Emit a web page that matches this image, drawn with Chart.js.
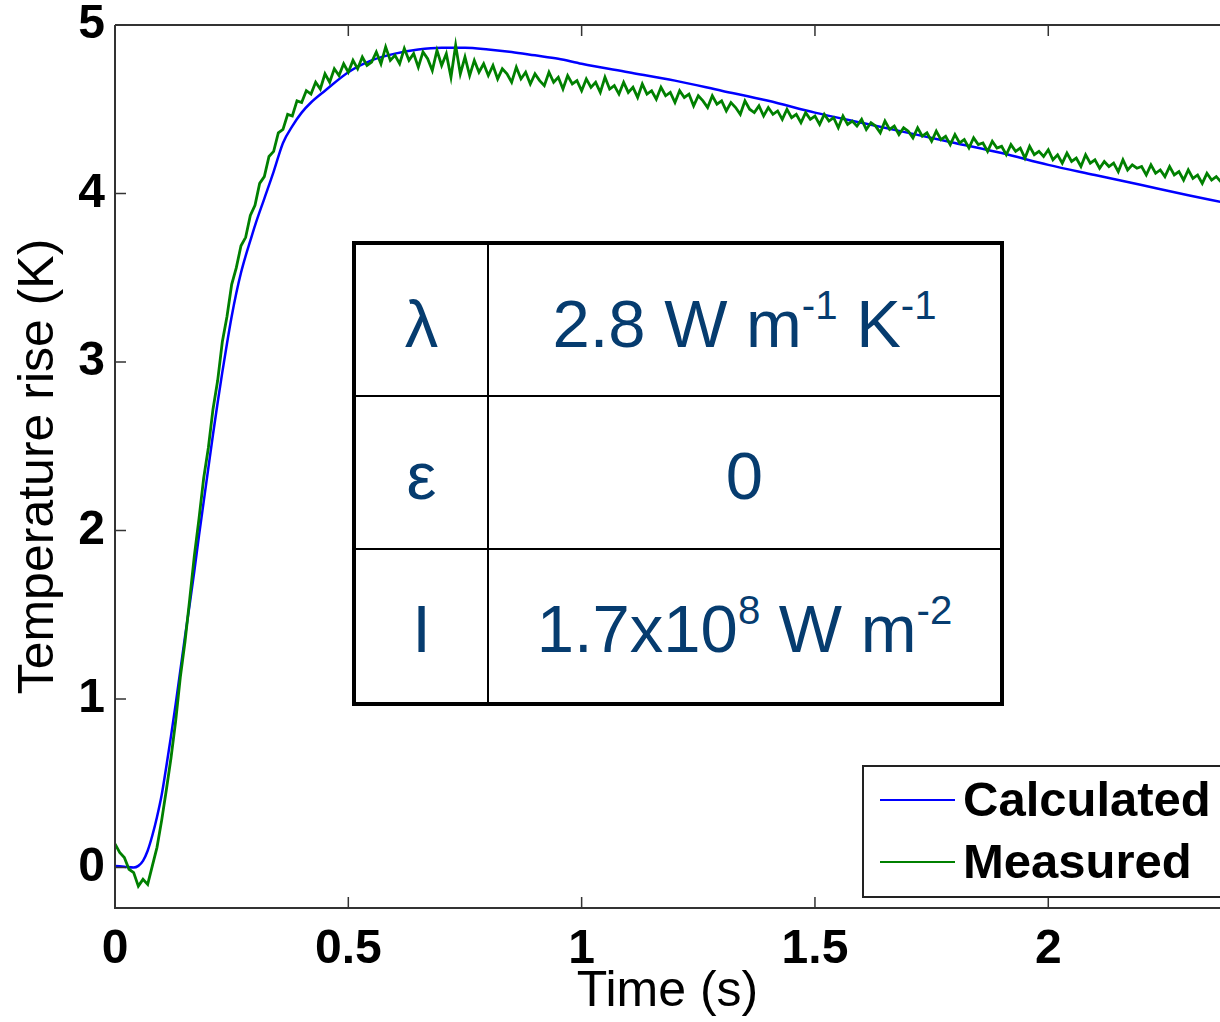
<!DOCTYPE html>
<html>
<head>
<meta charset="utf-8">
<script src="https://cdn.jsdelivr.net/npm/chart.js@4/dist/chart.umd.min.js"></script>
<style>
  html, body { margin: 0; padding: 0; background: #fff; }
  #wrap { position: relative; width: 1220px; height: 1022px; overflow: hidden; }
  #plot { position: absolute; left: 0; top: 0; }
  #params {
    position: absolute; left: 352px; top: 241px; width: 652px; height: 465px;
    box-sizing: border-box; border: 4px solid #000; background: #fff;
    display: grid; grid-template-columns: 133px 1fr; grid-template-rows: 1fr 1fr 1fr;
    font-family: 'Liberation Sans', Arial, sans-serif; font-size: 67px; color: #063c6f;
  }
  #params div {
    display: flex; align-items: center; justify-content: center;
    padding-top: 6px; box-sizing: border-box; white-space: nowrap;
  }
  #params .k { border-right: 2px solid #000; }
  #params .r { border-bottom: 2px solid #000; }
  #params sup { font-size: 0.6em; vertical-align: 0.7em; line-height: 0; }
</style>
</head>
<body>
<div id="wrap">
  <canvas id="plot" width="1220" height="1022"></canvas>
  <div id="params">
    <div class="k r"><span>λ</span></div><div class="r"><span>2.8 W m<sup>-1</sup> K<sup>-1</sup></span></div>
    <div class="k r"><span>ε</span></div><div class="r"><span>0</span></div>
    <div class="k"><span>I</span></div><div><span>1.7x10<sup>8</sup> W m<sup>-2</sup></span></div>
  </div>
</div>
<script>
let canvas = document.getElementById('plot');
let context = canvas.getContext('2d');
const FONT = "'Liberation Sans', Arial, sans-serif";

// calculated curve (s, K)
let calc_time = [0, 0.02, 0.04, 0.05, 0.06, 0.07, 0.08, 0.09, 0.10, 0.11, 0.12, 0.13, 0.14, 0.15,
	0.16, 0.17, 0.18, 0.19, 0.20, 0.21, 0.22, 0.23, 0.24, 0.25, 0.26, 0.27, 0.28, 0.29, 0.30,
	0.32, 0.34, 0.36, 0.38, 0.40, 0.42, 0.45, 0.50, 0.55, 0.60, 0.65, 0.70, 0.75, 0.80, 0.85,
	0.90, 0.95, 1.00, 1.10, 1.20, 1.30, 1.40, 1.50, 1.60, 1.70, 1.80, 1.90, 2.00, 2.10, 2.20,
	2.30, 2.37];
let calc_temp = [0.01, 0.005, 0.0, 0.01, 0.04, 0.10, 0.19, 0.30, 0.43, 0.60, 0.78, 0.97, 1.17, 1.37,
	1.56, 1.76, 1.97, 2.17, 2.37, 2.57, 2.76, 2.94, 3.11, 3.27, 3.41, 3.53, 3.63, 3.72, 3.81,
	3.97, 4.13, 4.30, 4.40, 4.48, 4.54, 4.61, 4.72, 4.79, 4.83, 4.855, 4.865, 4.865, 4.855, 4.84,
	4.82, 4.80, 4.77, 4.72, 4.67, 4.61, 4.55, 4.48, 4.42, 4.36, 4.30, 4.24, 4.17, 4.11, 4.05,
	3.99, 3.95];

// measured samples, one every 0.01 s from t = 0
let measured_step = 0.01;
let measured_temp = [
	0.14, 0.09, 0.06, -0.01, -0.03, -0.11, -0.07, -0.10, 0.01, 0.12,
	0.28, 0.46, 0.65, 0.87, 1.13, 1.34, 1.59, 1.85, 2.07, 2.31,
	2.49, 2.72, 2.89, 3.12, 3.27, 3.46, 3.56, 3.69, 3.74, 3.87,
	3.93, 4.06, 4.10, 4.22, 4.25, 4.36, 4.38, 4.47, 4.46, 4.55,
	4.54, 4.61, 4.59, 4.66, 4.62, 4.71, 4.66, 4.74, 4.70, 4.77,
	4.72, 4.79, 4.74, 4.81, 4.76, 4.78, 4.84, 4.77, 4.87, 4.79,
	4.82, 4.77, 4.86, 4.79, 4.83, 4.75, 4.84, 4.80, 4.73, 4.85,
	4.76, 4.83, 4.69, 4.88, 4.71, 4.81, 4.70, 4.79, 4.72, 4.77,
	4.70, 4.76, 4.68, 4.74, 4.71, 4.66, 4.75, 4.68, 4.72, 4.65,
	4.71, 4.67, 4.64, 4.72, 4.66, 4.69, 4.62, 4.70, 4.65, 4.67,
	4.61, 4.68, 4.63, 4.66, 4.60, 4.69, 4.62, 4.64, 4.59, 4.66,
	4.60, 4.63, 4.57, 4.65, 4.59, 4.61, 4.56, 4.63, 4.58, 4.60,
	4.54, 4.61, 4.57, 4.59, 4.52, 4.58, 4.55, 4.51, 4.58, 4.53,
	4.55, 4.49, 4.54, 4.51, 4.47, 4.55, 4.50, 4.48, 4.52, 4.46,
	4.51, 4.47, 4.49, 4.44, 4.50, 4.45, 4.47, 4.42, 4.48, 4.44,
	4.46, 4.41, 4.47, 4.43, 4.45, 4.39, 4.46, 4.41, 4.43, 4.40,
	4.44, 4.38, 4.42, 4.40, 4.36, 4.43, 4.38, 4.40, 4.35, 4.39,
	4.37, 4.33, 4.39, 4.34, 4.36, 4.31, 4.37, 4.32, 4.34, 4.29,
	4.35, 4.30, 4.32, 4.27, 4.33, 4.29, 4.30, 4.25, 4.31, 4.27,
	4.28, 4.23, 4.29, 4.25, 4.27, 4.21, 4.28, 4.23, 4.25, 4.22,
	4.26, 4.20, 4.23, 4.18, 4.24, 4.19, 4.21, 4.16, 4.23, 4.18,
	4.20, 4.15, 4.19, 4.16, 4.18, 4.13, 4.20, 4.14, 4.17, 4.15,
	4.16, 4.11, 4.17, 4.12, 4.14, 4.10, 4.16, 4.11, 4.13, 4.08,
	4.14, 4.09, 4.11, 4.06, 4.12, 4.08, 4.10, 4.07
];

let x_ticks = [0, 0.5, 1, 1.5, 2];
let x_tick_labels = ['0', '0.5', '1', '1.5', '2'];
let y_ticks = [0, 1, 2, 3, 4, 5];
let y_tick_labels = ['0', '1', '2', '3', '4', '5'];
let series_names = ['Calculated', 'Measured'];
let series_colors = ['#0000ff', '#008000'];

let calc_points = calc_time.map((t, i) => ({x: t, y: calc_temp[i]}));
let measured_points = measured_temp.map((v, i) => ({x: +(i * measured_step).toFixed(2), y: v}));

//frame with inward ticks, like the original box
let framePlugin = {
	id: 'frame',
	afterDatasetsDraw(chart) {
		let ctx = chart.ctx;
		let a = chart.chartArea;
		let sx = chart.scales.x, sy = chart.scales.y;
		ctx.save();
		ctx.strokeStyle = '#333';
		ctx.lineWidth = 2;
		ctx.beginPath();
		ctx.moveTo(a.left, a.top); ctx.lineTo(a.right + 2, a.top);
		ctx.moveTo(a.left, a.top); ctx.lineTo(a.left, a.bottom);
		ctx.lineTo(a.right + 2, a.bottom);
		ctx.stroke();
		ctx.lineWidth = 1.5;
		ctx.beginPath();
		x_ticks.forEach(v => {
			let px = sx.getPixelForValue(v);
			ctx.moveTo(px, a.bottom); ctx.lineTo(px, a.bottom - 11);
			ctx.moveTo(px, a.top); ctx.lineTo(px, a.top + 11);
		});
		y_ticks.forEach(v => {
			let py = sy.getPixelForValue(v);
			ctx.moveTo(a.left, py); ctx.lineTo(a.left + 11, py);
		});
		ctx.stroke();
		ctx.restore();
	}
};

//boxed legend in the lower right corner
let legendPlugin = {
	id: 'boxLegend',
	afterDraw(chart) {
		let ctx = chart.ctx;
		let a = chart.chartArea;
		let x0 = a.left + 748, y0 = a.bottom - 142;
		ctx.save();
		ctx.fillStyle = '#fff';
		ctx.fillRect(x0, y0, 400, 131);
		ctx.strokeStyle = '#222';
		ctx.lineWidth = 2;
		ctx.strokeRect(x0, y0, 400, 131);
		ctx.font = 'bold 49px ' + FONT;
		ctx.textBaseline = 'middle';
		ctx.fillStyle = '#000';
		series_names.forEach((name, i) => {
			let y = y0 + 34 + i * 62;
			ctx.strokeStyle = series_colors[i];
			ctx.lineWidth = 2;
			ctx.beginPath();
			ctx.moveTo(x0 + 17, y); ctx.lineTo(x0 + 92, y);
			ctx.stroke();
			ctx.fillText(name, x0 + 100, y + 2);
		});
		ctx.restore();
	}
};

let plot = new Chart(context, {
	type: 'line',
	data: {
		datasets: [
			{
				label: series_names[0],
				data: calc_points,
				borderColor: series_colors[0],
				borderWidth: 2.5,
				pointRadius: 0,
				cubicInterpolationMode: 'monotone',
				order: 1
			},
			{
				label: series_names[1],
				data: measured_points,
				borderColor: series_colors[1],
				borderWidth: 2.8,
				pointRadius: 0,
				tension: 0,
				order: 0
			}
		]
	},
	options: {
		responsive: false,
		animation: false,
		layout: { padding: { top: 25, left: 0, right: 0, bottom: 0 } },
		plugins: { legend: { display: false }, tooltip: { enabled: false } },
		scales: {
			x: {
				type: 'linear',
				min: 0,
				max: 2.368,
				afterBuildTicks: s => { s.ticks = x_ticks.map(v => ({value: v})); },
				afterFit: s => { s.height = 114; s.paddingLeft = 0; s.paddingRight = 0; },
				grid: { display: false, drawTicks: false },
				border: { display: false },
				ticks: {
					color: '#000',
					padding: 18,
					font: { family: FONT, size: 48, weight: 'bold', lineHeight: 1 },
					callback: (v, i) => x_tick_labels[i]
				},
				title: {
					display: true,
					text: 'Time (s)',
					color: '#000',
					font: { family: FONT, size: 50, weight: 'normal' },
					padding: { top: 0, bottom: 0 }
				}
			},
			y: {
				type: 'linear',
				min: -0.24,
				max: 5,
				afterBuildTicks: s => { s.ticks = y_ticks.map(v => ({value: v})); },
				afterFit: s => { s.width = 115; s.paddingTop = 0; s.paddingBottom = 0; },
				grid: { display: false, drawTicks: false },
				border: { display: false },
				ticks: {
					color: '#000',
					padding: 10,
					font: { family: FONT, size: 48, weight: 'bold', lineHeight: 1 },
					callback: (v, i) => y_tick_labels[i]
				},
				title: {
					display: true,
					text: 'Temperature rise (K)',
					color: '#000',
					font: { family: FONT, size: 50, weight: 'normal' },
					padding: { top: 9, bottom: 0 }
				}
			}
		}
	},
	plugins: [framePlugin, legendPlugin]
});
</script>
</body>
</html>
